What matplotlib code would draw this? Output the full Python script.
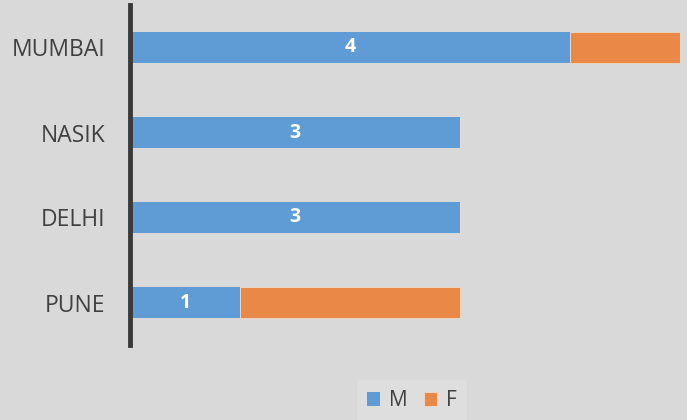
import matplotlib.pyplot as plt
import numpy as np

cities = ["MUMBAI", "NASIK", "DELHI", "PUNE"]
male = [4, 3, 3, 1]
female = [1, 0, 0, 2]

blue = "#5f9bd5"
orange = "#ea8848"
bg = "#d9d9d9"

plt.rcParams['font.family'] = ['Open Sans', 'DejaVu Sans']

fig = plt.figure(figsize=(6.87, 4.2), dpi=100, facecolor=bg)
ax = fig.add_axes([130 / 687, 1 - 345 / 420, 550 / 687, 340 / 420])
ax.set_facecolor(bg)

y = np.arange(len(cities))
bars_m = ax.barh(y, male, height=0.37, color=blue, label="M")
ax.barh(y, female, left=male, height=0.37, color=orange, label="F",
        edgecolor="#f0dcc8", linewidth=0.6)

for rect, val in zip(bars_m, male):
    ax.text(rect.get_x() + rect.get_width() / 2, rect.get_y() + rect.get_height() / 2,
            str(val), ha="center", va="center", color="white",
            fontsize=14, fontweight="bold")

ax.set_xlim(0, 5)
ax.set_ylim(len(cities) - 0.5, -0.5)
ax.set_yticks(y)
ax.set_yticklabels(cities, fontsize=16.5, color="#404040")
ax.tick_params(axis="y", length=0, pad=18)
ax.set_xticks([])
for side in ["top", "right", "bottom"]:
    ax.spines[side].set_visible(False)
ax.spines["left"].set_color("#3a3a3a")
ax.spines["left"].set_linewidth(3.5)

leg = fig.legend(loc="center", bbox_to_anchor=(412 / 687, 1 - 401 / 420), ncol=2,
                 frameon=True, fancybox=False, fontsize=15, handlelength=0.62,
                 handleheight=0.62, handletextpad=0.43, columnspacing=0.77,
                 labelcolor="#404040", borderpad=0.5)
leg.get_frame().set_facecolor("#dedede")
leg.get_frame().set_edgecolor("none")
leg.get_frame().set_alpha(1)

plt.savefig("out.png", dpi=100, facecolor=bg)
